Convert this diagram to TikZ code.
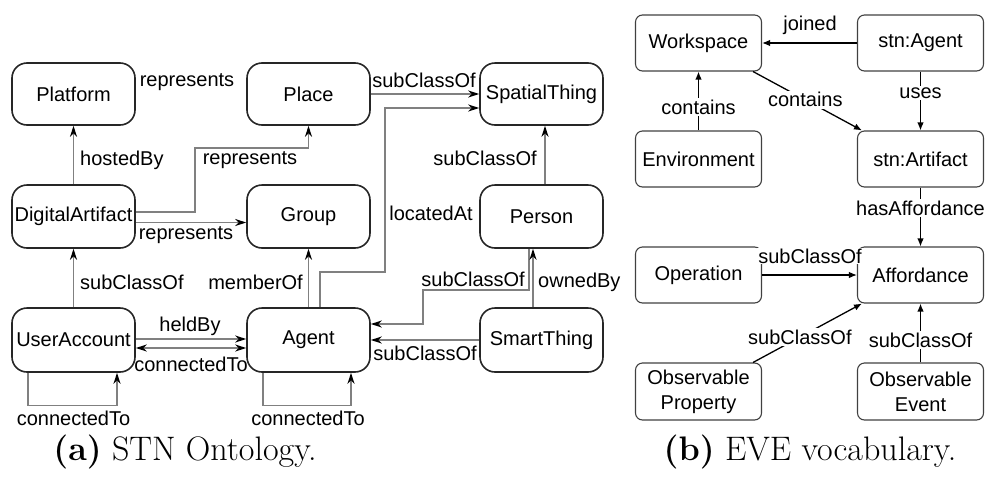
\documentclass[tikz,border=0pt]{standalone}
\usepackage{fontspec}
\newfontfamily\lsans{Liberation Sans}
\usetikzlibrary{arrows.meta}
\tikzset{
  lbox/.style={draw=black!85, line width=1.6pt, rounded corners=15pt, minimum width=123pt, minimum height=62pt, inner sep=0pt, font=\lsans\fontsize{20}{24}\selectfont},
  rbox/.style={draw=black!75, line width=1.1pt, rounded corners=7pt, minimum width=126pt, minimum height=56pt, inner sep=0pt, align=center, font=\lsans\fontsize{20}{25}\selectfont},
  ledge/.style={draw=black!50, line width=1.3pt, -{Stealth[length=11pt,width=7pt,color=black]}},
  ledgeboth/.style={draw=black!50, line width=1.3pt, {Stealth[length=11pt,width=7pt,color=black]}-{Stealth[length=11pt,width=7pt,color=black]}},
  redge/.style={draw=black, line width=1.3pt, -{Latex[length=8pt,width=6.5pt]}},
  llab/.style={inner sep=0pt, font=\lsans\fontsize{20}{24}\selectfont},
  rlab/.style={fill=white, inner sep=1.5pt, font=\lsans\fontsize{20}{24}\selectfont},
  capt/.style={inner sep=0pt, font=\fontsize{34}{40}\selectfont}
}
\begin{document}
\begin{tikzpicture}[x=1pt, y=-1pt]
\useasboundingbox (0,0) rectangle (987,477);
% ---------------- left panel ----------------
\node[lbox] (plat) at (73.5,94) {Platform};
\node[lbox] (place) at (308.5,94) {Place};
\node[lbox] (st) at (541.5,94) {SpatialThing};
\node[lbox, minimum height=63pt] (da) at (73.5,216.5) {DigitalArtifact};
\node[lbox, minimum height=63pt] (group) at (308.5,216.5) {Group};
\node[lbox, minimum height=63pt] (person) at (541.5,216.5) {Person};
\node[lbox, minimum height=64pt] (ua) at (73.5,340) {UserAccount};
\node[lbox, minimum height=64pt] (agent) at (308.5,340) {Agent};
\node[lbox, minimum height=64pt] (smart) at (541.5,340) {SmartThing};

\coordinate (c1) at (195,148);
\coordinate (c2) at (385,272);
\coordinate (c3) at (423,290);

\draw[ledge] (da.north) -- (plat.south);
\draw[ledge] ([yshift=4.5pt]da.east) -| (c1) -| (place.south);
\draw[ledge] ([yshift=-6pt]da.east) -- ([yshift=-6pt]group.west);
\draw[ledge] (place.east) -- (st.west);
\draw[ledge] ([xshift=11.5pt]agent.north) |- (c2) |- ([yshift=-14pt]st.west);
\draw[ledge] ([xshift=3.5pt]person.north) -- ([xshift=3.5pt]st.south);
\draw[ledge] (ua.north) -- (da.south);
\draw[ledge] (agent.north) -- (group.south);
\draw[ledge] ([yshift=1pt]ua.east) -- ([yshift=1pt]agent.west);
\draw[ledgeboth] ([yshift=-8pt]ua.east) -- ([yshift=-8pt]agent.west);
\draw[ledge] ([xshift=-45.5pt]ua.south) -- ++(0,33) -| ([xshift=43.5pt]ua.south);
\draw[ledge] ([xshift=-45.5pt]agent.south) -- ++(0,33) -| ([xshift=42.5pt]agent.south);
\draw[ledge] (smart.west) -- (agent.east);
\draw[ledge] ([xshift=-12.5pt]person.south) |- (c3) |- ([yshift=16pt]agent.east);
\draw[ledge] ([xshift=-8.5pt]smart.north) -- ([xshift=-8.5pt]person.south);

\node[llab] (l1) at (187,82) {represents};
\node[llab, anchor=west] (l2) at (80,160) {hostedBy};
\node[llab] (l3) at (250,160) {represents};
\node[llab] (l4) at (186,235) {represents};
\node[llab] (l5) at (424,80) {subClassOf};
\node[llab] (l6) at (431,213) {locatedAt};
\node[llab, anchor=east] (l7) at (537,158) {subClassOf};
\node[llab, anchor=west] (l8) at (80,282) {subClassOf};
\node[llab, anchor=east] (l9) at (303,282) {memberOf};
\node[llab] (l10) at (190,326) {heldBy};
\node[llab] (l11) at (191,364) {connectedTo};
\node[llab] (l12) at (73.5,418) {connectedTo};
\node[llab] (l13) at (308,418) {connectedTo};
\node[llab] (l14) at (425,353) {subClassOf};
\node[llab, anchor=east] (l15) at (525,279) {subClassOf};
\node[llab, anchor=west] (l16) at (538,282) {ownedBy};

% ---------------- right panel ----------------
\node[rbox] (ws) at (698.5,43) {Workspace};
\node[rbox] (sagent) at (920.5,43) {stn:Agent};
\node[rbox] (env) at (698.5,159) {Environment};
\node[rbox] (sart) at (920.5,159) {stn:Artifact};
\node[rbox] (op) at (698.5,275) {Operation};
\node[rbox] (aff) at (920.5,275) {Affordance};
\node[rbox, minimum height=57pt] (oprop) at (698.5,391.5) {Observable\\Property};
\node[rbox, minimum height=57pt] (oevent) at (920.5,391.5) {Observable\\Event};

\draw[redge] (sagent.west) -- (ws.east);
\node[llab] (r1) at (810,25) {joined};
\draw[redge] (env.north) -- node[rlab, pos=0.4] {contains} (ws.south);
\draw[redge] ([xshift=-9pt]ws.south east) -- node[rlab, pos=0.48] {contains} ([xshift=5pt]sart.north west);
\draw[redge] (sagent.south) -- node[rlab, pos=0.37] {uses} (sart.north);
\draw[redge] (sart.south) -- node[rlab, pos=0.35] {hasAffordance} (aff.north);
\draw[redge] (op.east) -- (aff.west);
\node[rlab, inner sep=1pt] (r2) at (810,256) {subClassOf};
\draw[redge] ([xshift=-9pt]oprop.north east) -- node[rlab, pos=0.43] {subClassOf} ([xshift=5pt]aff.south west);
\draw[redge] (oevent.north) -- node[rlab, pos=0.38] {subClassOf} (aff.south);

% ---------------- captions ----------------
\node[capt] (ca) at (185,452) {\textbf{(a)} STN Ontology.};
\node[capt] (cb) at (810,452) {\textbf{(b)} EVE vocabulary.};
\end{tikzpicture}
\end{document}
